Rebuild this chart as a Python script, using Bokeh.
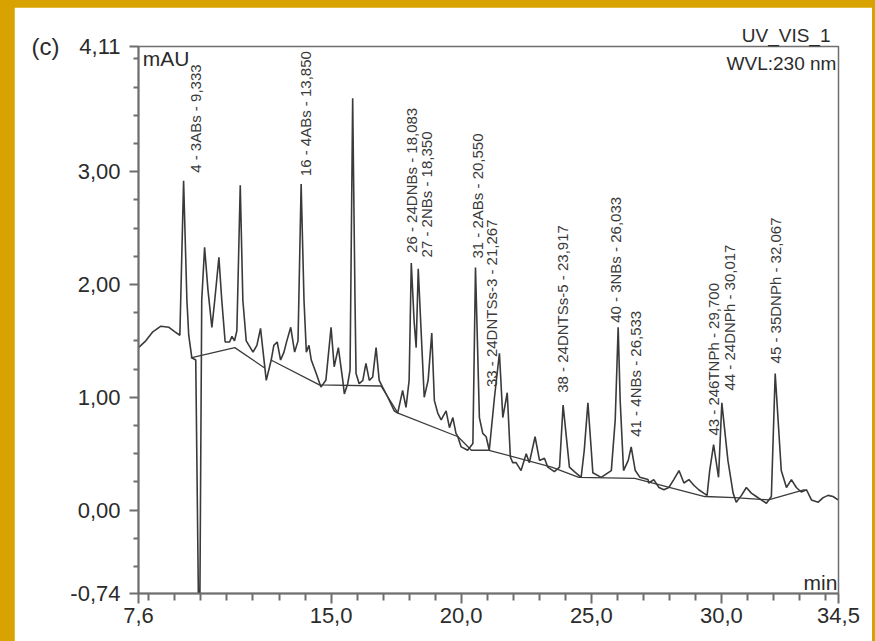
import math
from bokeh.plotting import figure
from bokeh.models import FixedTicker, Label, LinearAxis, Title
from bokeh.layouts import column
from bokeh.embed import file_html
from bokeh.resources import INLINE
from bokeh.core.properties import value

# ---- chromatogram trace (retention time in min, signal in mAU) ----
trace_t = [7.60, 7.88, 8.15, 8.46, 8.77, 9.00, 9.19, 9.333, 9.46, 9.53, 9.65, 9.80,
           9.90, 9.96, 10.03, 10.14, 10.27, 10.42, 10.53, 10.69, 10.80, 10.93, 11.10,
           11.19, 11.29, 11.38, 11.51, 11.61, 11.74, 12.00, 12.15, 12.29, 12.38, 12.51,
           12.70, 12.80, 12.93, 13.06, 13.19, 13.30, 13.45, 13.60, 13.73, 13.85, 13.96,
           14.05, 14.15, 14.24, 14.43, 14.61, 14.80, 15.00, 15.12, 15.28, 15.45, 15.51,
           15.64, 15.73, 15.83, 15.92, 15.96, 16.08, 16.22, 16.34, 16.47, 16.60, 16.73,
           16.85, 16.98, 17.18, 17.43, 17.56, 17.75, 17.88, 18.00, 18.083, 18.19, 18.27,
           18.35, 18.46, 18.58, 18.73, 18.87, 18.97, 19.10, 19.23, 19.42, 19.55, 19.68,
           19.80, 19.87, 20.00, 20.25, 20.45, 20.55, 20.70, 20.83, 20.96, 21.08, 21.28,
           21.47, 21.60, 21.77, 21.89, 21.98, 22.11, 22.30, 22.50, 22.62, 22.84, 23.01,
           23.20, 23.33, 23.58, 23.78, 23.917, 24.16, 24.35, 24.61, 24.73, 24.87, 25.00,
           25.06, 25.38, 25.77, 25.92, 26.033, 26.11, 26.24, 26.42, 26.533, 26.69, 26.87,
           27.18, 27.21, 27.40, 27.60, 27.79, 27.98, 28.17, 28.37, 28.56, 28.75, 28.94,
           29.13, 29.32, 29.45, 29.55, 29.70, 29.89, 30.017, 30.25, 30.45, 30.57, 30.77,
           30.96, 31.15, 31.34, 31.53, 31.73, 31.92, 32.067, 32.30, 32.50, 32.69, 32.88,
           33.07, 33.27, 33.46, 33.72, 33.91, 34.10, 34.29, 34.48]
trace_v = [1.44, 1.50, 1.58, 1.63, 1.62, 1.58, 1.55, 2.92, 1.86, 1.55, 1.35, 1.33,
           -0.74, -0.74, 1.86, 2.33, 1.95, 1.62, 1.86, 2.24, 1.86, 1.49, 1.49,
           1.54, 1.50, 1.59, 2.88, 1.86, 1.50, 1.40, 1.46, 1.61, 1.42, 1.15,
           1.33, 1.46, 1.49, 1.33, 1.40, 1.50, 1.62, 1.40, 1.50, 2.89, 1.86,
           1.40, 1.46, 1.33, 1.21, 1.09, 1.15, 1.62, 1.27, 1.44, 1.15, 1.03,
           1.12, 1.24, 3.65, 1.86, 1.21, 1.12, 1.15, 1.30, 1.15, 1.18, 1.44,
           1.15, 1.09, 1.00, 0.88, 0.86, 1.06, 0.91, 1.15, 2.19, 1.68, 1.44,
           2.14, 1.59, 1.00, 1.15, 1.57, 0.97, 0.86, 0.80, 0.88, 0.73, 0.82,
           0.68, 0.65, 0.56, 0.53, 0.59, 2.15, 0.82, 0.68, 0.65, 0.53, 1.00,
           1.39, 0.82, 1.04, 0.47, 0.42, 0.42, 0.35, 0.50, 0.42, 0.65, 0.44,
           0.46, 0.38, 0.34, 0.38, 0.93, 0.38, 0.34, 0.29, 0.53, 0.95, 0.53,
           0.33, 0.29, 0.35, 0.80, 1.62, 0.97, 0.35, 0.44, 0.56, 0.35, 0.29,
           0.27, 0.24, 0.27, 0.20, 0.18, 0.20, 0.27, 0.35, 0.24, 0.27, 0.22,
           0.18, 0.15, 0.13, 0.35, 0.58, 0.29, 0.95, 0.44, 0.15, 0.07, 0.13,
           0.20, 0.15, 0.12, 0.09, 0.06, 0.12, 1.21, 0.35, 0.20, 0.27, 0.20,
           0.16, 0.18, 0.09, 0.07, 0.11, 0.13, 0.12, 0.09]

# ---- integration baseline segments ----
base_t = [[9.61, 11.30, 12.45],
          [12.69, 14.55, 16.92, 17.57, 19.88, 20.39, 21.07, 23.48, 24.52, 26.67,
           29.36, 30.51, 31.81, 33.20]]
base_v = [[1.35, 1.44, 1.26],
          [1.33, 1.11, 1.10, 0.86, 0.65, 0.53, 0.53, 0.38, 0.29, 0.28,
           0.12, 0.11, 0.09, 0.18]]

# ---- peak annotations ----
peak_labels = ["4 - 3ABs - 9,333", "16 - 4ABs - 13,850", "26 - 24DNBs - 18,083",
               "27 - 2NBs - 18,350", "31 - 2ABs - 20,550", "33 - 24DNTSs-3 - 21,267",
               "38 - 24DNTSs-5 - 23,917", "40 - 3NBs - 26,033", "41 - 4NBs - 26,533",
               "43 - 246TNPh - 29,700", "44 - 24DNPh - 30,017", "45 - 35DNPh - 32,067"]
label_t = [9.80, 14.00, 18.09, 18.65, 20.61, 21.15, 23.88, 25.92, 26.69, 29.68, 30.30, 32.07]
label_v = [2.99, 2.96, 2.28, 2.24, 2.23, 1.09, 1.04, 1.66, 0.65, 0.66, 1.06, 1.30]

# ---- axes ----
x_ticks = [7.6, 15.0, 20.0, 25.0, 30.0, 34.5]
x_tick_labels = ["7,6", "15,0", "20,0", "25,0", "30,0", "34,5"]
x_minor = [8, 9, 10, 11, 12, 13, 14, 16, 17, 18, 19, 21, 22, 23, 24, 26, 27, 28, 29,
           31, 32, 33, 34]
y_ticks = [-0.74, 0.0, 1.0, 2.0, 3.0, 4.11]
y_tick_labels = ["-0,74", "0,00", "1,00", "2,00", "3,00", "4,11"]
y_minor = [-0.5, -0.25, 0.25, 0.5, 0.75, 1.25, 1.5, 1.75, 2.25, 2.5, 2.75,
           3.25, 3.5, 3.75, 4.0]
panel_tag = "(c)"
channel_name = "UV_VIS_1"

FONT = "Liberation Sans"
INK = "#2b2b2b"
AX = "#6e6e6e"

p = figure(width=858, height=634, x_range=(7.6, 34.5), y_range=(-0.74, 4.11),
           output_backend="svg", toolbar_location=None,
           min_border_left=124, min_border_right=34, min_border_top=39,
           min_border_bottom=48)
p.margin = (7, 3, 0, 14)
p.grid.visible = False
p.background_fill_color = "white"
p.border_fill_color = "white"
p.outline_line_color = AX
p.outline_line_width = 1.5

for ax, ticks, minor, labels in ((p.xaxis, x_ticks, x_minor, x_tick_labels),
                                 (p.yaxis, y_ticks, y_minor, y_tick_labels)):
    ax.ticker = FixedTicker(ticks=ticks, minor_ticks=minor)
    ax.major_label_overrides = dict(zip(ticks, labels))
    ax.major_label_text_font = FONT
    ax.major_label_text_font_size = "22px"
    ax.major_label_text_color = INK
    ax.axis_line_color = AX
    ax.axis_line_width = 2
    ax.major_tick_line_color = AX
    ax.minor_tick_line_color = AX
    ax.major_tick_line_width = 2
    ax.minor_tick_line_width = 2
    ax.major_tick_in = 0
    ax.minor_tick_in = 0

p.xaxis.major_tick_out = 10
p.xaxis.minor_tick_out = 7
p.xaxis.major_label_standoff = 4
p.yaxis.major_tick_out = 9
p.yaxis.minor_tick_out = 5
p.yaxis.major_label_standoff = 9

# outer left axis carrying only the panel tag "(c)" level with the top tick
tag_axis = LinearAxis(ticker=FixedTicker(ticks=[y_ticks[-1]], minor_ticks=[]),
                      major_label_overrides={y_ticks[-1]: panel_tag},
                      axis_line_color=None, major_tick_line_color=None,
                      minor_tick_line_color=None, major_tick_out=0, major_tick_in=0,
                      major_label_standoff=8, major_label_text_font=FONT,
                      major_label_text_font_size="24px", major_label_text_color=INK)
p.add_layout(tag_axis, "left")

# channel name above the top-right corner of the frame
p.add_layout(Title(text=channel_name, align="right", offset=8, standoff=2,
                   text_font=FONT, text_font_size="19px", text_font_style="normal",
                   text_color=INK), "above")

p.multi_line(base_t, base_v, line_color="#3c3c3c", line_width=1.3)
p.line(trace_t, trace_v, line_color="#3a3a3a", line_width=1.6)

p.text(x=label_t, y=label_v, text=peak_labels, angle=math.pi / 2,
       text_align="left", text_baseline="middle",
       text_font=value(FONT), text_font_size=value("15px"), text_color="#3a3a3a")

def lab(txt, x, y, align, size):
    p.add_layout(Label(x=x, y=y, text=txt,
                       text_align=align, text_baseline="middle",
                       text_font=FONT, text_font_size=size, text_color=INK))

lab("mAU", 7.76, 4.00, "left", "21px")
lab("WVL:230 nm", 34.42, 3.96, "right", "19px")
lab("min", 34.46, -0.645, "right", "21px")

layout = column(p, styles={"background-color": "#D8A300"})

open("out.html", "w").write(file_html(layout, INLINE))
